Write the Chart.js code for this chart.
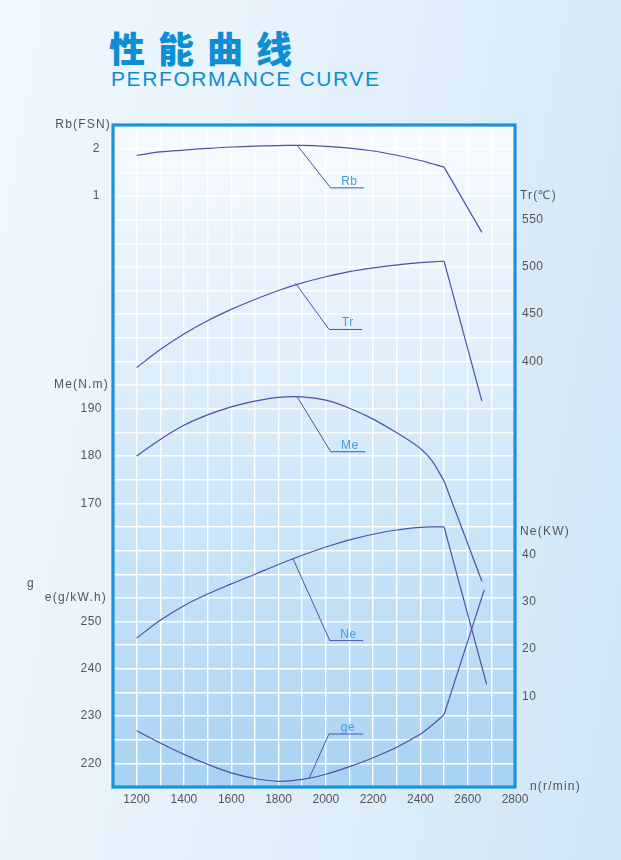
<!DOCTYPE html>
<html>
<head>
<meta charset="utf-8">
<script src="https://cdn.jsdelivr.net/npm/chart.js@4"></script>
<style>
html,body{margin:0;padding:0;}
body{width:621px;height:860px;overflow:hidden;position:relative;
  background:linear-gradient(100deg,#f1f8fe 0%,#e4f1fb 45%,#cfe5f7 100%);}
#t1{position:absolute;left:109px;top:25px;font-family:"Noto Sans CJK SC";font-weight:900;font-size:36px;
  line-height:44px;letter-spacing:13px;color:#0b8ed6;white-space:nowrap;}
#t2{position:absolute;left:111px;top:68px;font-family:"Liberation Sans",Arial,sans-serif;font-size:21px;
  line-height:21px;letter-spacing:1.6px;color:#0b8ed6;white-space:nowrap;}
#c{position:absolute;left:0;top:0;}
</style>
</head>
<body>
<div id="t1">性能曲线</div>
<div id="t2">PERFORMANCE CURVE</div>
<canvas id="c" width="621" height="860"></canvas>
<script>

// engine speed n (r/min), shared by the smooth part of every curve
const speeds = [1200,1300,1400,1500,1600,1700,1800,1900,2000,2100,2200,2300,2400,2450,2500];

// smoke Rb (FSN)
const rbValues = [1.86,1.93,1.97,2.005,2.035,2.055,2.065,2.07,2.05,2.01,1.95,1.86,1.75,1.68,1.61];
const rbEnd = [2660, 0.23];
// exhaust temperature Tr (C)
const trValues = [393.5,412.5,429,443,455,465.5,475,483,489.5,495,499,502,504.5,505.3,506];
const trEnd = [2660, 358];
// torque Me (N.m)
const meValues = [180,183.5,186.5,188.7,190.4,191.6,192.4,192.5,191.8,190.1,187.8,184.9,181.6,178.9,174.7];
const meEnd = [2660, 153.5];
// power Ne (kW)
const neValues = [22.3,26.05,29.15,31.6,33.75,35.8,37.85,39.8,41.55,43.05,44.25,45.15,45.7,45.8,45.8];
const neEnd = [2680, 12.5];
// fuel consumption ge (g/kW.h)
const geValues = [226.9,224.3,221.9,219.8,218.0,216.8,216.2,216.6,217.7,219.3,221.2,223.4,226.2,228.1,230.3];
const geEnd = [2670, 256.7];

// leader lines to the curve names: speeds and values of the three corners
const rbLeadN = [1879,2020,2162], rbLeadV = [2.07,1.17,1.17];
const trLeadN = [1872,2014,2154], trLeadV = [482.5,433.8,433.8];
const meLeadN = [1879,2021,2166], meLeadV = [192.5,180.9,180.9];
const neLeadN = [1861,2017,2158], neLeadV = [39.1,21.75,21.75];
const geLeadN = [1929,2013,2158], geLeadV = [216.8,226.2,226.2];

// tick labels
const xTicks = [1200,1400,1600,1800,2000,2200,2400,2600,2800];
const rbTicks = [1,2];
const meTicks = [170,180,190];
const geTicks = [220,230,240,250];
const trTicks = [400,450,500,550];
const neTicks = [10,20,30,40];

const lineColor = '#4f50a8';
const nameColor = '#3b9ee2';
const labelColor = '#555';

function pts(xs, ys){ return xs.map((x,i)=>({x:x, y:ys[i]})) }

function curveSets(axis, vals, end, leadN, leadV){
  const last = vals.length-1;
  return [
    {data: pts(speeds, vals), yAxisID: axis, tension: 0.35},
    {data: [{x:speeds[last], y:vals[last]}, {x:end[0], y:end[1]}], yAxisID: axis, tension: 0},
    {data: pts(leadN, leadV), yAxisID: axis, tension: 0, borderWidth: 1}
  ]
}

let datasets = [].concat(
  curveSets('yRb', rbValues, rbEnd, rbLeadN, rbLeadV),
  curveSets('yTr', trValues, trEnd, trLeadN, trLeadV),
  curveSets('yMe', meValues, meEnd, meLeadN, meLeadV),
  curveSets('yNe', neValues, neEnd, neLeadN, neLeadV),
  curveSets('yGe', geValues, geEnd, geLeadN, geLeadV)
)
datasets.forEach(d=>{
  d.borderColor = lineColor
  d.borderWidth = d.borderWidth || 1.2
  d.pointRadius = 0
  d.fill = false
})

// names written over the leader lines
const names = [
  ['Rb','yRb',rbLeadN,rbLeadV],
  ['Tr','yTr',trLeadN,trLeadV],
  ['Me','yMe',meLeadN,meLeadV],
  ['Ne','yNe',neLeadN,neLeadV],
  ['ge','yGe',geLeadN,geLeadV]
]

const perfPlugin = {
  id: 'perf',
  beforeDraw(chart){
    const {ctx, chartArea: a} = chart
    const g = ctx.createLinearGradient(0, a.top, 0, a.bottom)
    g.addColorStop(0, '#f7fbff')
    g.addColorStop(0.3, '#e3f0fb')
    g.addColorStop(0.55, '#d0e7f9')
    g.addColorStop(0.8, '#bcdcf6')
    g.addColorStop(1, '#a7d2f2')
    ctx.save()
    ctx.fillStyle = g
    ctx.fillRect(a.left, a.top, a.width, a.height)
    ctx.restore()
  },
  afterDraw(chart){
    const {ctx, chartArea: a, scales} = chart
    ctx.save()
    // frame
    ctx.strokeStyle = '#1a93db'
    ctx.lineWidth = 3.2
    ctx.strokeRect(a.left, a.top, a.width, a.height)

    ctx.font = '12px "Liberation Sans", Arial, sans-serif'
    ctx.fillStyle = labelColor
    ctx.textBaseline = 'middle'
    ctx.letterSpacing = '0.5px'

    // left axes
    ctx.textAlign = 'right'
    const lx = a.left - 11
    rbTicks.forEach(v=>ctx.fillText(v, lx - 2, scales.yRb.getPixelForValue(v)))
    meTicks.forEach(v=>ctx.fillText(v, lx, scales.yMe.getPixelForValue(v)))
    geTicks.forEach(v=>ctx.fillText(v, lx, scales.yGe.getPixelForValue(v)))
    ctx.letterSpacing = '1.2px'
    ctx.fillText('Rb(FSN)', a.left - 2, scales.yRb.getPixelForValue(2.5))
    ctx.fillText('Me(N.m)', a.left - 4, scales.yMe.getPixelForValue(195))
    ctx.fillText('e(g/kW.h)', a.left - 6, scales.yGe.getPixelForValue(255))
    ctx.textAlign = 'left'
    ctx.fillText('g', 27, scales.yGe.getPixelForValue(258))

    // right axes
    ctx.letterSpacing = '0.5px'
    const rx = a.right + 7
    trTicks.forEach(v=>ctx.fillText(v, rx, scales.yTr.getPixelForValue(v)))
    neTicks.forEach(v=>ctx.fillText(v, rx, scales.yNe.getPixelForValue(v)))
    ctx.letterSpacing = '1.2px'
    ctx.fillText('Tr(℃)', a.right + 5, scales.yTr.getPixelForValue(575))
    ctx.fillText('Ne(KW)', a.right + 5, scales.yNe.getPixelForValue(44.8))
    ctx.fillText('n(r/min)', a.right + 15, a.bottom)

    // curve names
    ctx.letterSpacing = '0.5px'
    ctx.fillStyle = nameColor
    ctx.textAlign = 'center'
    ctx.textBaseline = 'alphabetic'
    names.forEach(([t, axis, ns, vs])=>{
      const x = (scales.x.getPixelForValue(ns[1]) + scales.x.getPixelForValue(ns[2]))/2 + 2
      const y = scales[axis].getPixelForValue(vs[1]) - 3
      ctx.fillText(t, x, y)
    })
    ctx.restore()
  }
}

const hidden = (min, max)=>({type:'linear', display:false, min:min, max:max})

const config = {
  type: 'line',
  data: {datasets: datasets},
  options: {
    responsive: false,
    animation: false,
    layout: {padding: {left: 113, right: 106, top: 125, bottom: 43}},
    plugins: {legend: {display:false}, tooltip: {enabled:false}},
    scales: {
      x: {
        type: 'linear', min: 1100, max: 2800,
        ticks: {
          stepSize: 100, autoSkip: false, maxRotation: 0, padding: 5,
          color: labelColor, font: {family: '"Liberation Sans", Arial, sans-serif', size: 12},
          callback: v => xTicks.includes(v) ? String(v) : ''
        },
        grid: {color: 'rgba(255,255,255,0.95)', lineWidth: 1.4, drawTicks: false},
        border: {display: false},
        afterFit: s => { s.height = 30 }
      },
      yGe: {
        type: 'linear', position: 'left', min: 215, max: 355,
        ticks: {stepSize: 5, display: false},
        grid: {color: 'rgba(255,255,255,0.95)', lineWidth: 1.4, drawTicks: false},
        border: {display: false},
        afterFit: s => { s.width = 0 }
      },
      yRb: hidden(-11.5, 2.5),
      yTr: hidden(-50, 650),
      yMe: hidden(110, 250),
      yNe: hidden(-9.2, 130.8)
    }
  },
  plugins: [perfPlugin]
}

const myChart = new Chart(document.getElementById('c'), config)

</script>
</body>
</html>
